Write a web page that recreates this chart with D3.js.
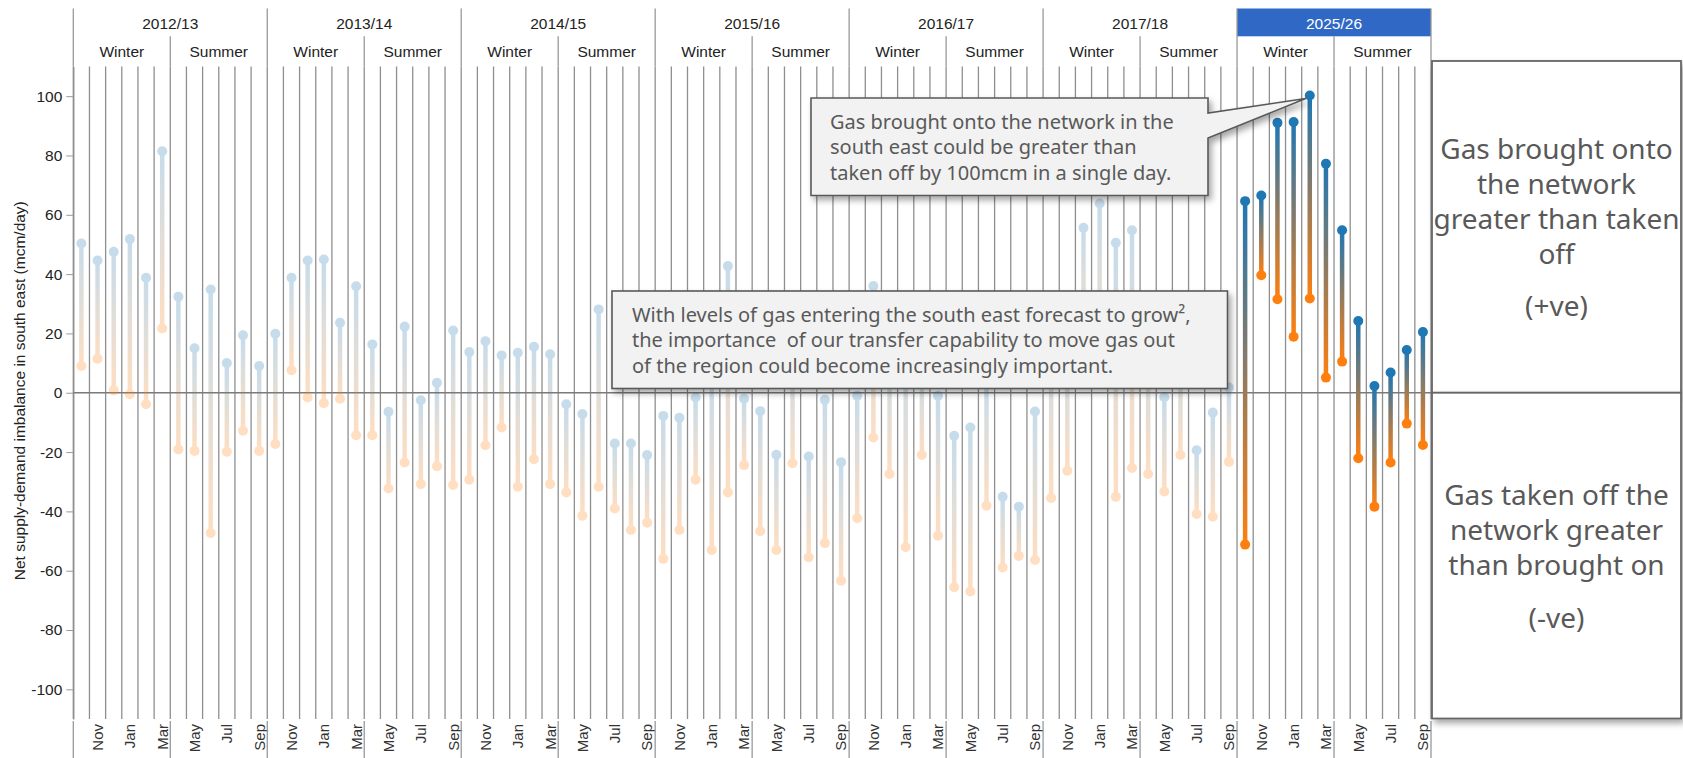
<!DOCTYPE html>
<html>
<head>
<meta charset="utf-8">
<script src="https://cdn.jsdelivr.net/npm/d3@7"></script>
<style>
  html, body { margin: 0; padding: 0; background: #fff; overflow: hidden; }
  svg { display: block; }
</style>
</head>
<body>
<div id="chart"></div>
<script>
const W = 1683, H = 758;
const PLOT = { x0: 73.3, x1: 1431, y0: 66.5, y1: 719 };
const HEAD = { top: 8.5, mid: 36.3, bottom: 66.5 };

// data
const seasons = ["2012/13", "2013/14", "2014/15", "2015/16", "2016/17", "2017/18", "2025/26"];
const monthNames = ["Oct", "Nov", "Dec", "Jan", "Feb", "Mar", "Apr", "May", "Jun", "Jul", "Aug", "Sep"];
const halfNames = ["Winter", "Summer"];
const labelledMonths = ["Nov", "Jan", "Mar", "May", "Jul", "Sep"];
const forecastSeason = "2025/26";
const yTicks = [-100, -80, -60, -40, -20, 0, 20, 40, 60, 80, 100];

// max (gas on > gas off) end of each month, mcm/day
const topVals = [
  50.3, 44.6, 47.5, 51.8, 38.8, 81.4, 32.4, 15.0, 34.8, 10.0, 19.4, 9.0,
  19.9, 38.8, 44.6, 44.9, 23.6, 35.9, 16.3, -6.4, 22.3, -2.5, 3.4, 21.0,
  13.7, 17.4, 12.6, 13.5, 15.5, 13.0, -3.9, -7.2, 28.1, -17.1, -17.1, -21.0,
  -7.8, -8.4, -1.6, 8.0, 42.7, -2.0, -6.2, -20.9, 12.0, -21.5, -2.4, -23.4,
  -1.0, 36.0, 12.0, 18.0, 8.0, -1.0, -14.5, -11.7, 4.0, -35.1, -38.4, -6.3,
  22.0, 18.0, 55.6, 63.8, 50.6, 54.8, 20.0, -1.5, 12.0, -19.4, -6.7, 1.8,
  64.6, 66.5, 91.0, 91.3, 100.2, 77.2, 54.8, 24.2, 2.3, 6.8, 14.4, 20.5
];
// min end of each month
const bottomVals = [
  9.0, 11.5, 0.8, -0.5, -3.9, 21.7, -19.1, -19.6, -47.3, -19.9, -12.8, -19.6,
  -17.3, 7.6, -1.6, -3.5, -2.0, -14.3, -14.3, -32.3, -23.5, -30.8, -24.8, -31.1,
  -29.3, -17.7, -11.7, -31.7, -22.4, -30.8, -33.6, -41.5, -31.7, -39.0, -46.3, -43.8,
  -56.0, -46.3, -29.3, -53.0, -33.6, -24.4, -46.7, -53.0, -23.8, -55.5, -50.7, -63.4,
  -42.3, -15.1, -27.4, -52.1, -21.0, -48.2, -65.6, -67.0, -38.1, -58.9, -55.0, -56.4,
  -35.5, -26.3, 14.0, 6.0, -35.1, -25.4, -27.4, -33.3, -21.0, -40.9, -41.8, -23.3,
  -51.2, 39.6, 31.5, 18.9, 31.8, 5.1, 10.5, -22.1, -38.4, -23.5, -10.4, -17.6
];

const callout1Lines = ["Gas brought onto the network in the", "south east could be greater than", "taken off by 100mcm in a single day."];
const callout2Lines = ["With levels of gas entering the south east forecast to grow\u00b2,", "the importance  of our transfer capability to move gas out", "of the region could become increasingly important."];
const posBoxLines = ["Gas brought onto", "the network", "greater than taken", "off"];
const negBoxLines = ["Gas taken off the", "network greater", "than brought on"];

const BLUE = "#1f77b4", ORANGE = "#ff7f0e";
const GRID = "#8f8f8f", NOTE = "#595959";
const NOTE_FONT = "'Noto Sans', 'Open Sans', sans-serif";

const rows = seasons.flatMap((s, si) => monthNames.map((m, mi) => ({
  key: s + "|" + m, season: s, month: m,
  top: topVals[si * 12 + mi], bottom: bottomVals[si * 12 + mi]
})));

const svg = d3.select("#chart").append("svg")
  .attr("width", W).attr("height", H)
  .style("font-family", "'Liberation Sans', Arial, sans-serif");
const defs = svg.append("defs");
const shadow = defs.append("filter").attr("id", "shadow")
  .attr("x", "-5%").attr("y", "-10%").attr("width", "115%").attr("height", "130%");
shadow.append("feDropShadow").attr("dx", 3).attr("dy", 4).attr("stdDeviation", 3)
  .attr("flood-color", "#000").attr("flood-opacity", 0.35);

// scales
const x = d3.scaleBand().domain(rows.map(d => d.key)).range([PLOT.x0, PLOT.x1]).padding(0);
const y = d3.scaleLinear().domain([-110, 110]).range([PLOT.y1, PLOT.y0]);
const bw = x.bandwidth();
const cx = d => x(d.key) + bw / 2;

// month grid lines
const bounds = rows.map(d => x(d.key)).concat([PLOT.x1]);
svg.append("g").selectAll("line").data(bounds).join("line")
  .attr("x1", d => d).attr("x2", d => d)
  .attr("y1", PLOT.y0).attr("y2", PLOT.y1)
  .attr("stroke", GRID).attr("stroke-width", 1.3);

// y axis
const yAxis = svg.append("g").attr("transform", "translate(" + PLOT.x0 + ",0)")
  .call(d3.axisLeft(y).tickValues(yTicks).tickFormat(d => String(d))
    .tickSize(7).tickSizeOuter(0).tickPadding(4));
yAxis.select(".domain").attr("stroke", GRID).attr("stroke-width", 1.3);
yAxis.selectAll(".tick line").attr("stroke", "#999");
yAxis.selectAll("text").attr("font-size", 15.5).attr("fill", "#222")
  .style("font-family", "'Liberation Sans', Arial, sans-serif");

svg.append("text")
  .attr("transform", "translate(20," + ((PLOT.y0 + PLOT.y1) / 2 - 2) + ") rotate(-90)")
  .attr("text-anchor", "middle").attr("dy", "0.35em")
  .attr("font-size", 15.5).attr("fill", "#222")
  .text("Net supply-demand imbalance in south east (mcm/day)");

// zero line
svg.append("line")
  .attr("x1", PLOT.x0).attr("x2", PLOT.x1).attr("y1", y(0)).attr("y2", y(0))
  .attr("stroke", "#7a7a7a").attr("stroke-width", 1.6);

// x axis (month labels)
const xAxis = svg.append("g").attr("transform", "translate(0," + PLOT.y1 + ")")
  .call(d3.axisBottom(x)
    .tickValues(rows.filter(d => labelledMonths.includes(d.month)).map(d => d.key))
    .tickFormat(k => k.split("|")[1]).tickSize(0));
xAxis.select(".domain").remove();
xAxis.selectAll("text")
  .attr("transform", "rotate(-90)")
  .attr("text-anchor", "end").attr("x", -5).attr("y", 0).attr("dy", "0.36em")
  .attr("font-size", 15).attr("fill", "#333")
  .style("font-family", "'Liberation Sans', Arial, sans-serif");
// half-year separators under the axis
const halfBounds = rows.filter(d => d.month === "Oct" || d.month === "Apr").map(d => x(d.key)).concat([PLOT.x1]);
svg.append("g").selectAll("line").data(halfBounds).join("line")
  .attr("x1", d => d).attr("x2", d => d).attr("y1", PLOT.y1 + 2).attr("y2", H)
  .attr("stroke", "#999").attr("stroke-width", 1.3);

// header (season / half-year)
const header = svg.append("g").attr("font-size", 15.5);
seasons.forEach(s => {
  const x0 = x(s + "|Oct"), xm = x(s + "|Apr"), x1 = x(s + "|Sep") + bw;
  const hi = s === forecastSeason;
  if (hi) {
    header.append("rect").attr("x", x0).attr("y", HEAD.top)
      .attr("width", x1 - x0).attr("height", HEAD.mid - HEAD.top).attr("fill", "#3069c5");
  }
  header.append("text").attr("x", (x0 + x1) / 2).attr("y", (HEAD.top + HEAD.mid) / 2 + 1)
    .attr("dy", "0.35em").attr("text-anchor", "middle")
    .attr("fill", hi ? "#fff" : "#222").text(s);
  halfNames.forEach((h, i) => {
    const a = i ? xm : x0, b = i ? x1 : xm;
    header.append("text").attr("x", (a + b) / 2).attr("y", (HEAD.mid + HEAD.bottom) / 2)
      .attr("dy", "0.35em").attr("text-anchor", "middle").attr("fill", "#222").text(h);
  });
  header.append("line").attr("x1", x0).attr("x2", x0).attr("y1", HEAD.top).attr("y2", HEAD.bottom)
    .attr("stroke", "#999").attr("stroke-width", 1.3);
  header.append("line").attr("x1", xm).attr("x2", xm).attr("y1", HEAD.mid).attr("y2", HEAD.bottom)
    .attr("stroke", "#999").attr("stroke-width", 1.3);
});
header.append("line").attr("x1", PLOT.x1).attr("x2", PLOT.x1).attr("y1", HEAD.top).attr("y2", HEAD.bottom)
  .attr("stroke", "#999").attr("stroke-width", 1.3);

// lollipops
rows.forEach((d, i) => {
  defs.append("linearGradient").attr("id", "grad" + i)
    .attr("gradientUnits", "userSpaceOnUse")
    .attr("x1", cx(d)).attr("x2", cx(d)).attr("y1", y(d.top)).attr("y2", y(d.bottom))
    .selectAll("stop").data([[0, BLUE], [1, ORANGE]]).join("stop")
    .attr("offset", s => s[0]).attr("stop-color", s => s[1]);
});
const pops = svg.append("g").selectAll("g").data(rows).join("g")
  .attr("opacity", d => d.season === forecastSeason ? 1 : 0.25);
pops.append("line")
  .attr("x1", cx).attr("x2", cx)
  .attr("y1", d => y(d.top)).attr("y2", d => y(d.bottom))
  .attr("stroke", (d, i) => "url(#grad" + i + ")").attr("stroke-width", 4.5);
pops.append("circle").attr("cx", cx).attr("cy", d => y(d.top)).attr("r", 5).attr("fill", BLUE);
pops.append("circle").attr("cx", cx).attr("cy", d => y(d.bottom)).attr("r", 5).attr("fill", ORANGE);

// callout 1 (pointing at the forecast peak)
const peak = rows.filter(d => d.season === forecastSeason).reduce((a, b) => a.top > b.top ? a : b);
const c1 = { x0: 811, x1: 1208, y0: 98, y1: 195.5, n0: 113, n1: 138 };
const tip = [cx(peak) - 4, y(peak.top) + 3];
svg.append("path")
  .attr("d", "M" + c1.x0 + "," + c1.y0 + "H" + c1.x1 + "V" + c1.n0 + "L" + tip[0] + "," + tip[1] +
    "L" + c1.x1 + "," + c1.n1 + "V" + c1.y1 + "H" + c1.x0 + "Z")
  .attr("fill", "#f2f2f2").attr("stroke", NOTE).attr("stroke-width", 1.6)
  .attr("filter", "url(#shadow)");
svg.append("g").selectAll("text").data(callout1Lines).join("text")
  .attr("x", 830).attr("y", (d, i) => 128.5 + i * 25.5)
  .attr("font-family", NOTE_FONT).attr("font-size", 20).attr("fill", NOTE)
  .text(d => d);

// callout 2
svg.append("rect").attr("x", 612).attr("y", 291).attr("width", 615.5).attr("height", 97.5)
  .attr("fill", "#f2f2f2").attr("stroke", NOTE).attr("stroke-width", 1.6)
  .attr("filter", "url(#shadow)");
svg.append("g").selectAll("text").data(callout2Lines).join("text")
  .attr("x", 632).attr("y", (d, i) => 322 + i * 25.3)
  .attr("font-family", NOTE_FONT).attr("font-size", 20).attr("fill", NOTE)
  .style("white-space", "pre")
  .text(d => d);

// right-hand explanation boxes
const bx0 = 1432, bx1 = 1681;
svg.append("rect").attr("x", bx0).attr("y", 61).attr("width", bx1 - bx0).attr("height", y(0) - 61)
  .attr("fill", "#fff").attr("stroke", "#666").attr("stroke-width", 1.8).attr("filter", "url(#shadow)");
svg.append("rect").attr("x", bx0).attr("y", y(0)).attr("width", bx1 - bx0).attr("height", 718.5 - y(0))
  .attr("fill", "#fff").attr("stroke", "#666").attr("stroke-width", 1.8).attr("filter", "url(#shadow)");
const bxc = (bx0 + bx1) / 2;
const boxText = svg.append("g").attr("font-family", NOTE_FONT).attr("font-size", 28)
  .attr("fill", NOTE).attr("text-anchor", "middle");
boxText.selectAll("text.pos").data(posBoxLines).join("text").attr("class", "pos")
  .attr("x", bxc).attr("y", (d, i) => 159 + i * 35).text(d => d);
boxText.append("text").attr("x", bxc).attr("y", 316).text("(+ve)");
boxText.selectAll("text.neg").data(negBoxLines).join("text").attr("class", "neg")
  .attr("x", bxc).attr("y", (d, i) => 505 + i * 35).text(d => d);
boxText.append("text").attr("x", bxc).attr("y", 628).text("(-ve)");
</script>
</body>
</html>
